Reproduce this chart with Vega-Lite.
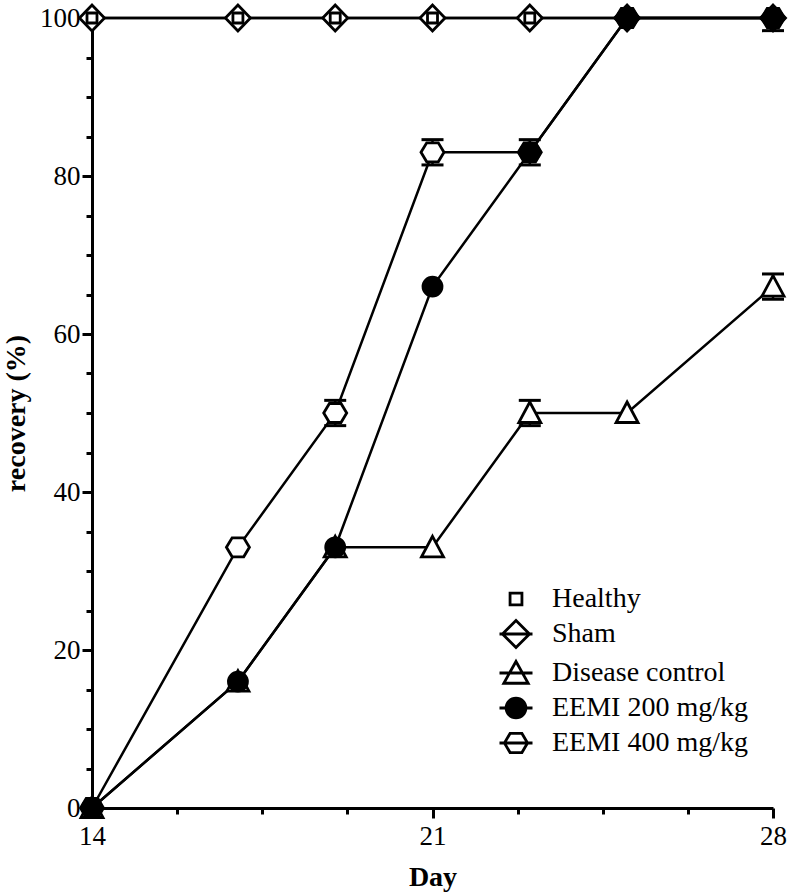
{
  "$schema": "https://vega.github.io/schema/vega-lite/v6.json",
  "width": 681,
  "height": 790,
  "autosize": {"type": "none"},
  "padding": {"left": 92, "top": 18, "right": 19, "bottom": 84},
  "background": "white",
  "config": {
    "font": "Liberation Serif, Times New Roman, serif",
    "view": {"stroke": null},
    "axis": {
      "domainColor": "black",
      "domainWidth": 3,
      "tickColor": "black",
      "tickWidth": 3,
      "grid": false,
      "labelFont": "Liberation Serif, Times New Roman, serif",
      "labelFontSize": 27,
      "labelColor": "black",
      "titleFont": "Liberation Serif, Times New Roman, serif",
      "titleFontWeight": "bold",
      "titleColor": "black",
      "labelFlush": false,
      "labelOverlap": false
    },
    "legend": {
      "labelFont": "Liberation Serif, Times New Roman, serif"
    }
  },
  "data": {
    "values": [
      {"Group": "Sham", "Day": 14, "Recovery": 100},
      {"Group": "Sham", "Day": 17, "Recovery": 100},
      {"Group": "Sham", "Day": 19, "Recovery": 100},
      {"Group": "Sham", "Day": 21, "Recovery": 100},
      {"Group": "Sham", "Day": 23, "Recovery": 100},
      {"Group": "Sham", "Day": 25, "Recovery": 100},
      {"Group": "Sham", "Day": 28, "Recovery": 100},
      {"Group": "Healthy", "Day": 14, "Recovery": 100},
      {"Group": "Healthy", "Day": 17, "Recovery": 100},
      {"Group": "Healthy", "Day": 19, "Recovery": 100},
      {"Group": "Healthy", "Day": 21, "Recovery": 100},
      {"Group": "Healthy", "Day": 23, "Recovery": 100},
      {"Group": "Healthy", "Day": 25, "Recovery": 100},
      {"Group": "Healthy", "Day": 28, "Recovery": 100},
      {"Group": "Disease control", "Day": 14, "Recovery": 0},
      {"Group": "Disease control", "Day": 17, "Recovery": 16},
      {"Group": "Disease control", "Day": 19, "Recovery": 33},
      {"Group": "Disease control", "Day": 21, "Recovery": 33},
      {"Group": "Disease control", "Day": 23, "Recovery": 50, "lo": 48.4, "hi": 51.6},
      {"Group": "Disease control", "Day": 25, "Recovery": 50},
      {"Group": "Disease control", "Day": 28, "Recovery": 66, "lo": 64.4, "hi": 67.6},
      {"Group": "EEMI 400 mg/kg", "Day": 14, "Recovery": 0},
      {"Group": "EEMI 400 mg/kg", "Day": 17, "Recovery": 33},
      {"Group": "EEMI 400 mg/kg", "Day": 19, "Recovery": 50, "lo": 48.4, "hi": 51.6},
      {"Group": "EEMI 400 mg/kg", "Day": 21, "Recovery": 83, "lo": 81.4, "hi": 84.6},
      {"Group": "EEMI 400 mg/kg", "Day": 23, "Recovery": 83},
      {"Group": "EEMI 400 mg/kg", "Day": 25, "Recovery": 100},
      {"Group": "EEMI 400 mg/kg", "Day": 28, "Recovery": 100},
      {"Group": "EEMI 200 mg/kg", "Day": 14, "Recovery": 0},
      {"Group": "EEMI 200 mg/kg", "Day": 17, "Recovery": 16},
      {"Group": "EEMI 200 mg/kg", "Day": 19, "Recovery": 33},
      {"Group": "EEMI 200 mg/kg", "Day": 21, "Recovery": 66},
      {"Group": "EEMI 200 mg/kg", "Day": 23, "Recovery": 83, "lo": 81.4, "hi": 84.6},
      {"Group": "EEMI 200 mg/kg", "Day": 25, "Recovery": 100},
      {"Group": "EEMI 200 mg/kg", "Day": 28, "Recovery": 100, "lo": 98.4, "hi": 100}
    ]
  },
  "encoding": {
    "x": {
      "field": "Day",
      "type": "quantitative",
      "scale": {"domain": [14, 28], "nice": false, "zero": false},
      "axis": {
        "title": "Day",
        "titleFontSize": 28,
        "values": [14, 15.75, 17.5, 19.25, 21, 22.75, 24.5, 26.25, 28],
        "labelExpr": "(datum.value - 14) % 7 === 0 ? datum.label : ''",
        "tickSize": {"condition": {"test": "(datum.value - 14) % 7 === 0", "value": 10}, "value": 6},
        "labelPadding": 5,
        "titlePadding": 14
      }
    },
    "y": {
      "field": "Recovery",
      "type": "quantitative",
      "scale": {"domain": [0, 100], "nice": false},
      "axis": {
        "title": "recovery (%)",
        "titleFontSize": 28,
        "values": [0, 5, 10, 15, 20, 25, 30, 35, 40, 45, 50, 55, 60, 65, 70, 75, 80, 85, 90, 95, 100],
        "labelExpr": "datum.value % 20 === 0 ? datum.label : ''",
        "tickSize": {"condition": {"test": "datum.value % 20 === 0", "value": 10}, "value": 6},
        "labelPadding": 2,
        "titlePadding": 9
      }
    }
  },
  "layer": [
    {
      "mark": {"type": "line", "color": "black", "strokeWidth": 2.5, "clip": false},
      "encoding": {"detail": {"field": "Group", "type": "nominal"}}
    },
    {
      "transform": [{"filter": "isValid(datum.lo)"}],
      "mark": {"type": "errorbar", "color": "black", "ticks": {"size": 22, "thickness": 3, "color": "black", "opacity": 1}, "rule": {"strokeWidth": 2.5, "color": "black", "opacity": 1}, "clip": false},
      "encoding": {
        "y": {"field": "lo", "type": "quantitative"},
        "y2": {"field": "hi"}
      }
    },
    {
      "mark": {"type": "point", "stroke": "black", "strokeWidth": 2.8, "opacity": 1, "size": 400, "clip": false},
      "encoding": {
        "shape": {
          "field": "Group",
          "type": "nominal",
          "scale": {
            "domain": ["Healthy", "Sham", "Disease control", "EEMI 200 mg/kg", "EEMI 400 mg/kg"],
            "range": [
              "M-0.5,-0.5H0.5V0.5H-0.5Z",
              "M-1.25,0L0,-1.3L1.25,0L0,1.3Z",
              "M0,-1.1L1.1,0.95H-1.1Z",
              "M-0.95,0A0.95,0.95,0,1,0,0.95,0A0.95,0.95,0,1,0,-0.95,0Z",
              "M-1.15,0L-0.58,-0.95H0.58L1.15,0L0.58,0.95H-0.58Z"
            ]
          },
          "legend": null
        },
        "fill": {
          "field": "Group",
          "type": "nominal",
          "scale": {
            "domain": ["Healthy", "Sham", "Disease control", "EEMI 200 mg/kg", "EEMI 400 mg/kg"],
            "range": ["white", "white", "white", "black", "white"]
          },
          "legend": null
        }
      }
    },
    {
      "transform": [{"filter": "false"}],
      "mark": {"type": "point", "strokeWidth": 2.8, "opacity": 1, "size": 1089, "filled": false},
      "encoding": {
        "shape": {
          "field": "Group",
          "type": "nominal",
          "scale": {
            "domain": ["Healthy", "Sham", "Disease control", "EEMI 200 mg/kg", "EEMI 400 mg/kg"],
            "range": [
              "M-0.36,-0.36H0.36V0.36H-0.36Z",
              "M-1,0H1M-0.82,0L0,-0.82L0.82,0L0,0.82Z",
              "M-1,0H1M0,-0.7L0.74,0.62H-0.74Z",
              "M-1,0H1M-0.6,0A0.6,0.6,0,1,0,0.6,0A0.6,0.6,0,1,0,-0.6,0Z",
              "M-1,0H1M-0.7,0L-0.36,-0.58H0.36L0.7,0L0.36,0.58H-0.36Z"
            ]
          },
          "legend": {
            "orient": "none",
            "legendX": 406,
            "legendY": 563,
            "title": null,
            "padding": 0,
            "labelFont": "Liberation Serif, Times New Roman, serif",
            "labelFontSize": 28,
            "labelColor": "black",
            "labelLimit": 0,
            "labelOffset": 18,
            "symbolSize": 1089,
            "symbolStrokeWidth": 2.8,
            "symbolOpacity": 1,
            "rowPadding": 1
          }
        },
        "fill": {
          "field": "Group",
          "type": "nominal",
          "scale": {
            "domain": ["Healthy", "Sham", "Disease control", "EEMI 200 mg/kg", "EEMI 400 mg/kg"],
            "range": ["white", "white", "white", "black", "white"]
          }
        },
        "stroke": {
          "field": "Group",
          "type": "nominal",
          "scale": {
            "domain": ["Healthy", "Sham", "Disease control", "EEMI 200 mg/kg", "EEMI 400 mg/kg"],
            "range": ["black", "black", "black", "black", "black"]
          }
        }
      }
    }
  ],
  "resolve": {"scale": {"shape": "independent", "fill": "independent", "stroke": "independent"}}
}
